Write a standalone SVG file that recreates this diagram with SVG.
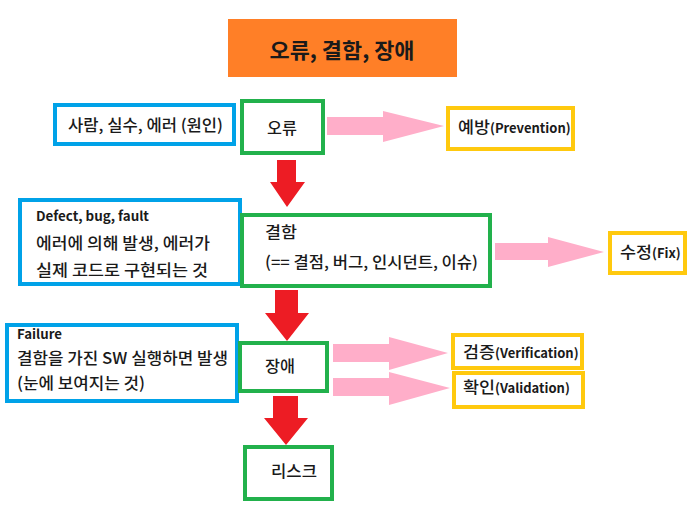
<svg xmlns="http://www.w3.org/2000/svg" width="692" height="515" viewBox="0 0 692 515">
<style>
text{font-family:"Noto Sans CJK KR","Noto Sans",sans-serif;fill:#1a1a1a;font-size:16px;font-weight:500}
.b{font-weight:bold}
.s{font-size:13px;font-weight:bold}
.blue{fill:#fff;stroke:#00A2E8;stroke-width:4}
.green{fill:#fff;stroke:#22B14C;stroke-width:4}
.yellow{fill:#fff;stroke:#FFC90E;stroke-width:4}
.red{fill:#ED1C24}
.pink{fill:#FFAEC9}
</style>
<rect width="692" height="515" fill="#fff"/>
<g id="title">
<rect x="228" y="19" width="229" height="58" fill="#FF7F27"/>
<text x="342" y="58" text-anchor="middle" class="b" style="font-size:21px" textLength="145" lengthAdjust="spacingAndGlyphs">오류, 결함, 장애</text>
</g>
<g id="connectors">
<polygon class="pink" points="327,117 383,117 383,111 444,126 383,142 383,135 327,135"/>
<polygon class="pink" points="495,243 548,243 548,237 604,252 548,267 548,260 495,260"/>
<polygon class="pink" points="333,344 389,344 389,337 448,353 389,370 389,362 333,362"/>
<polygon class="pink" points="333,378 389,378 389,372 450,388 389,405 389,396 333,396"/>
<polygon class="red" points="277,160 296,160 296,182 305,182 287,207 270,182 277,182"/>
<polygon class="red" points="275,290 298,290 298,313 309,313 287,341 265,313 275,313"/>
<polygon class="red" points="273,396 298,396 298,418 308,418 286,445 264,418 273,418"/>
</g>
<g id="cause">
<rect class="blue" x="55" y="105" width="179" height="39"/>
<text x="68" y="131" textLength="155" lengthAdjust="spacingAndGlyphs">사람, 실수, 에러 (원인)</text>
</g>
<g id="error">
<rect class="green" x="242" y="101" width="81" height="52"/>
<text x="267" y="134" textLength="30" lengthAdjust="spacingAndGlyphs">오류</text>
</g>
<g id="prevention">
<rect class="yellow" x="448" y="108" width="125" height="41"/>
<text x="458" y="133"><tspan textLength="32" lengthAdjust="spacingAndGlyphs">예방</tspan><tspan class="s">(Prevention)</tspan></text>
</g>
<g id="defect-desc">
<rect class="blue" x="20" y="200" width="220" height="84"/>
<text x="36" y="221" class="s" textLength="113" lengthAdjust="spacingAndGlyphs">Defect, bug, fault</text>
<text x="36" y="249" textLength="174" lengthAdjust="spacingAndGlyphs">에러에 의해 발생, 에러가</text>
<text x="36" y="276" textLength="172" lengthAdjust="spacingAndGlyphs">실제 코드로 구현되는 것</text>
</g>
<g id="defect">
<rect class="green" x="242" y="215" width="248" height="71"/>
<text x="265" y="238" textLength="32" lengthAdjust="spacingAndGlyphs">결함</text>
<text x="265" y="268" textLength="213" lengthAdjust="spacingAndGlyphs">(== 결점, 버그, 인시던트, 이슈)</text>
</g>
<g id="fix">
<rect class="yellow" x="610" y="233" width="75" height="40"/>
<text x="620" y="258"><tspan textLength="32" lengthAdjust="spacingAndGlyphs">수정</tspan><tspan class="s">(Fix)</tspan></text>
</g>
<g id="failure-desc">
<rect class="blue" x="7" y="325" width="230" height="76"/>
<text x="17" y="339" class="s" textLength="45" lengthAdjust="spacingAndGlyphs">Failure</text>
<text x="17" y="364" textLength="211" lengthAdjust="spacingAndGlyphs">결함을 가진 SW 실행하면 발생</text>
<text x="17" y="389" textLength="128" lengthAdjust="spacingAndGlyphs">(눈에 보여지는 것)</text>
</g>
<g id="failure">
<rect class="green" x="240" y="343" width="87" height="48"/>
<text x="265" y="372" textLength="30" lengthAdjust="spacingAndGlyphs">장애</text>
</g>
<g id="verification">
<rect class="yellow" x="453" y="335" width="129" height="33"/>
<text x="463" y="358"><tspan textLength="32" lengthAdjust="spacingAndGlyphs">검증</tspan><tspan class="s">(Verification)</tspan></text>
</g>
<g id="validation">
<rect class="yellow" x="454" y="373" width="129" height="34"/>
<text x="463" y="393"><tspan textLength="32" lengthAdjust="spacingAndGlyphs">확인</tspan><tspan class="s">(Validation)</tspan></text>
</g>
<g id="risk">
<rect class="green" x="245" y="447" width="87" height="52"/>
<text x="271" y="477" textLength="46" lengthAdjust="spacingAndGlyphs">리스크</text>
</g>
</svg>
